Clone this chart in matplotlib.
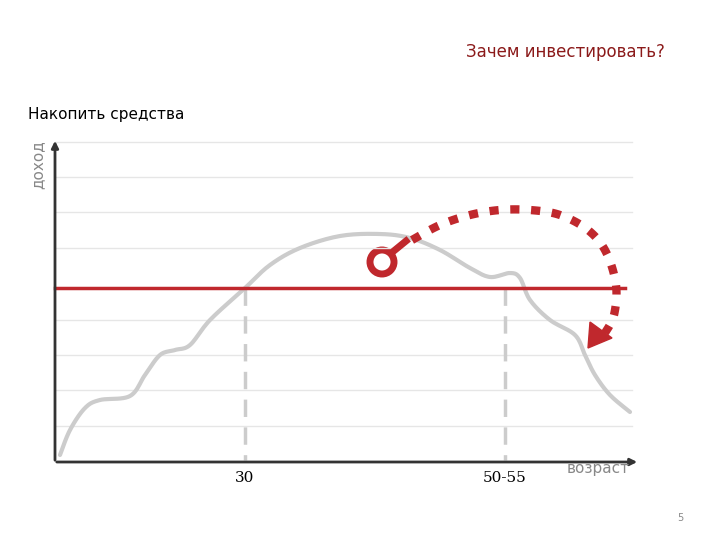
import matplotlib.pyplot as plt
import numpy as np
from matplotlib.patches import Circle, Polygon

# curve points (x in px, y in px from top)
curve_x = [60, 70, 85, 100, 130, 145, 160, 175, 190, 210, 245, 270, 300, 340, 380, 410, 440, 470, 490, 510, 520, 530, 550, 575, 585, 595, 610, 630]
curve_y = [455, 430, 408, 400, 396, 375, 355, 350, 345, 320, 288, 265, 248, 236, 234, 238, 250, 268, 277, 273, 278, 300, 320, 335, 355, 375, 395, 412]
grid_y = [142, 177, 212, 248, 320, 355, 390, 426]
level_y = 288
markers_x = [245, 505]
marker_labels = ["30", "50-55"]
arc_x = [412, 440, 470, 500, 530, 560, 588, 606, 616, 614, 605]
arc_y = [240, 225, 215, 210, 210, 215, 230, 252, 285, 315, 333]


def smooth(xs, ys, n=12):
    # Catmull-Rom through the points
    p = np.column_stack([xs, ys]).astype(float)
    p = np.vstack([p[0], p, p[-1]])
    out = []
    t = np.linspace(0, 1, n, endpoint=False)[:, None]
    for i in range(1, len(p) - 2):
        p0, p1, p2, p3 = p[i - 1], p[i], p[i + 1], p[i + 2]
        out.append(0.5 * (2 * p1 + (-p0 + p2) * t + (2 * p0 - 5 * p1 + 4 * p2 - p3) * t ** 2
                          + (-p0 + 3 * p1 - 3 * p2 + p3) * t ** 3))
    out.append(p[-2][None, :])
    out = np.vstack(out)
    return out[:, 0], out[:, 1]


red = "#c0282d"
fig = plt.figure(figsize=(7.2, 5.4), dpi=100)
ax = fig.add_axes([0, 0, 1, 1])
ax.set_xlim(0, 720)
ax.set_ylim(540, 0)
ax.axis("off")

for g in grid_y:
    ax.plot([55, 632], [g, g], color="#e6e6e6", lw=1)
ax.annotate("", xy=(55, 138), xytext=(55, 463),
            arrowprops=dict(arrowstyle="-|>", color="#333333", lw=2, mutation_scale=10))
ax.annotate("", xy=(640, 462), xytext=(54, 462),
            arrowprops=dict(arrowstyle="-|>", color="#333333", lw=2, mutation_scale=10))

sx, sy = smooth(curve_x, curve_y)
ax.plot(sx, sy, color="#cccccc", lw=3, solid_capstyle="round")
for mx in markers_x:
    ax.plot([mx, mx], [level_y, 460], color="#cccccc", lw=2.5, ls=(0, (5, 3)))
ax.plot([55, 625], [level_y, level_y], color=red, lw=2.5)

ax.add_patch(Circle((382, 262), 12, fill=False, ec=red, lw=5))
ax.plot([395, 406], [250, 241], color=red, lw=5)
ax.plot(*smooth(arc_x, arc_y), color=red, lw=6, ls=(0, (1.1, 1.4)))
ax.add_patch(Polygon([[588, 348], [590, 322], [612, 338]], closed=True, color=red))

for mx, lab in zip(markers_x, marker_labels):
    ax.text(mx, 478, lab, ha="center", va="center", fontsize=11, family="DejaVu Serif")
ax.text(598, 468, "возраст", ha="center", va="center", fontsize=11, color="#888888")
ax.text(38, 165, "доход", ha="center", va="center", rotation=90, fontsize=11, color="#888888")
ax.text(28, 115, "Накопить средства", ha="left", va="center", fontsize=11)
ax.text(565, 52, "Зачем инвестировать?", ha="center", va="center", fontsize=12, color="#8b1a1a")
ax.text(680, 518, "5", ha="center", va="center", fontsize=7, color="#888888")

fig.savefig("out.png")
